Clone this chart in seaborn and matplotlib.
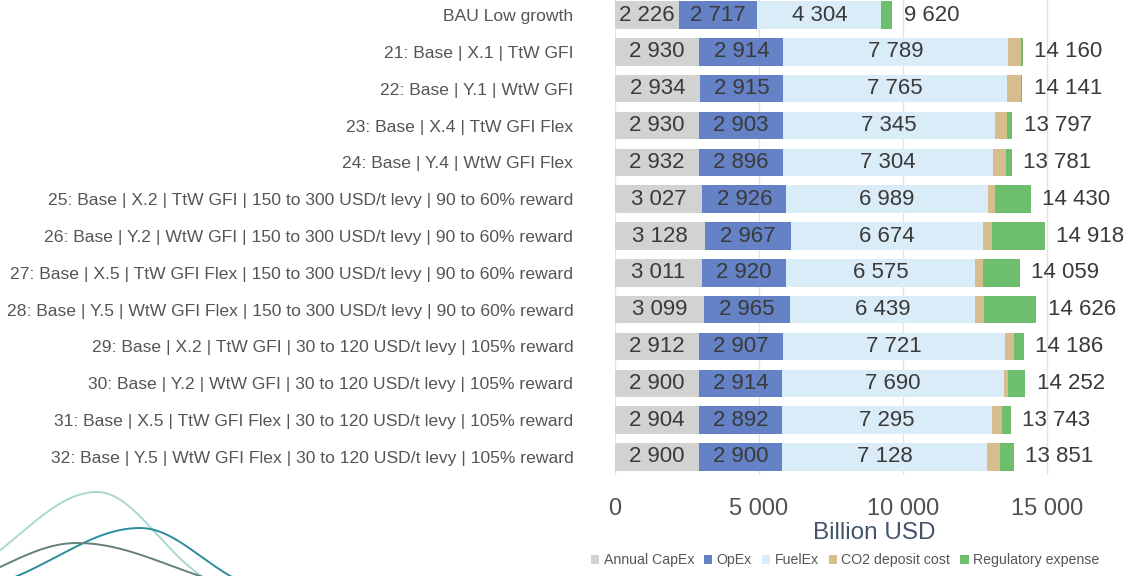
import numpy as np
import pandas as pd
import matplotlib
matplotlib.use("Agg")
import matplotlib.pyplot as plt
from matplotlib.patches import Patch
import seaborn as sns

# Scenario names (top to bottom)
scenarios = [
    "BAU Low growth",
    "21: Base | X.1 | TtW GFI",
    "22: Base | Y.1 | WtW GFI",
    "23: Base | X.4 | TtW GFI Flex",
    "24: Base | Y.4 | WtW GFI Flex",
    "25: Base | X.2 | TtW GFI | 150 to 300 USD/t levy | 90 to 60% reward",
    "26: Base | Y.2 | WtW GFI | 150 to 300 USD/t levy | 90 to 60% reward",
    "27: Base | X.5 | TtW GFI Flex | 150 to 300 USD/t levy | 90 to 60% reward",
    "28: Base | Y.5 | WtW GFI Flex | 150 to 300 USD/t levy | 90 to 60% reward",
    "29: Base | X.2 | TtW GFI | 30 to 120 USD/t levy | 105% reward",
    "30: Base | Y.2 | WtW GFI | 30 to 120 USD/t levy | 105% reward",
    "31: Base | X.5 | TtW GFI Flex | 30 to 120 USD/t levy | 105% reward",
    "32: Base | Y.5 | WtW GFI Flex | 30 to 120 USD/t levy | 105% reward",
]

# Cost components, billion USD
capex = [2226, 2930, 2934, 2930, 2932, 3027, 3128, 3011, 3099, 2912, 2900, 2904, 2900]
opex = [2717, 2914, 2915, 2903, 2896, 2926, 2967, 2920, 2965, 2907, 2914, 2892, 2900]
fuelex = [4304, 7789, 7765, 7345, 7304, 6989, 6674, 6575, 6439, 7721, 7690, 7295, 7128]
co2_deposit = [0, 470, 490, 420, 430, 250, 330, 280, 300, 330, 150, 350, 430]
regulatory = [373, 57, 37, 199, 219, 1238, 1819, 1273, 1823, 316, 598, 302, 493]
totals = [9620, 14160, 14141, 13797, 13781, 14430, 14918, 14059, 14626, 14186, 14252, 13743, 13851]

components = ["Annual CapEx", "OpEx", "FuelEx", "CO2 deposit cost", "Regulatory expense"]
colors = ["#d2d2d2", "#6482c5", "#d9ecf8", "#d6bd8e", "#6dbe6d"]

xticks = [0, 5000, 10000, 15000]


def fmt(v):
    return f"{v:,}".replace(",", " ")


sns.set_theme(style="white")
plt.rcParams["font.family"] = ["Liberation Sans", "DejaVu Sans"]

W, H = 1134, 576
fig = plt.figure(figsize=(W / 100, H / 100), dpi=100)
fig.patch.set_facecolor("white")

# Decorative wave lines in the lower-left corner
deco = fig.add_axes([0, 0, 1, 1], zorder=-1)
deco.set_xlim(0, W)
deco.set_ylim(H, 0)
deco.axis("off")
xs = np.linspace(-10, 260, 400)
for xc, peak, base, wl, wr, col in [
    (97, 492, 600, 110, 85, "#a9d8d0"),
    (140, 528, 600, 117, 86, "#2b8c9e"),
    (77, 543, 600, 104, 132, "#62807f"),
]:
    w = np.where(xs < xc, wl, wr)
    ys = base - (base - peak) * np.exp(-((xs - xc) / w) ** 2)
    deco.plot(xs, ys, color=col, lw=1.4)

top_px, bot_px, left_px = -3.4, 475.4, 615
ax = fig.add_axes([left_px / W, (H - bot_px) / H, (W - left_px) / W, (bot_px - top_px) / H])

df = pd.DataFrame({"scenario": scenarios})
layers = [capex, opex, fuelex, co2_deposit, regulatory]
cum = np.cumsum(np.array(layers), axis=0)

# Stacked bars: draw cumulative totals from the outermost layer inwards
for k in range(len(layers) - 1, -1, -1):
    df["value"] = cum[k]
    sns.barplot(data=df, x="value", y="scenario", orient="h", color=colors[k],
                saturation=1, width=0.75, errorbar=None, linewidth=0, ax=ax, zorder=2)

# Segment labels for CapEx, OpEx and FuelEx
for k in range(3):
    starts = cum[k] - np.array(layers[k])
    for i, v in enumerate(layers[k]):
        ax.text(starts[i] + v / 2, i, fmt(v), ha="center", va="center",
                fontsize=16, color="#3a3a3a", zorder=3)

# Total labels
for i, t in enumerate(totals):
    ax.text(cum[-1][i] + 400, i, fmt(t), ha="left", va="center",
            fontsize=16, color="#3a3a3a", zorder=3)

ax.set_xlim(0, 18020)
ax.set_xticks(xticks)
ax.set_xticklabels([fmt(v) for v in xticks])
ax.grid(axis="x", color="#e3e3e3", lw=1, zorder=0)
ax.grid(axis="y", visible=False)
ax.set_axisbelow(True)
for s in ax.spines.values():
    s.set_visible(False)
ax.tick_params(axis="y", length=0, pad=30, labelsize=12.6, labelcolor="#555555")
ax.tick_params(axis="x", length=0, pad=16, labelsize=17, labelcolor="#505050")
ax.set_ylabel("")
ax.set_xlabel("Billion USD", fontsize=17.5, color="#44546a", labelpad=2)

handles = [Patch(facecolor=c, edgecolor="none") for c in colors]
fig.legend(handles, components, loc="center left", bbox_to_anchor=(578 / W, 1 - 560 / H),
           ncol=5, frameon=False, fontsize=10.2, handlelength=0.6, handleheight=0.6,
           handletextpad=0.3, columnspacing=0.7, labelcolor="#555555")

fig.savefig("out.png", dpi=100, facecolor="white")
